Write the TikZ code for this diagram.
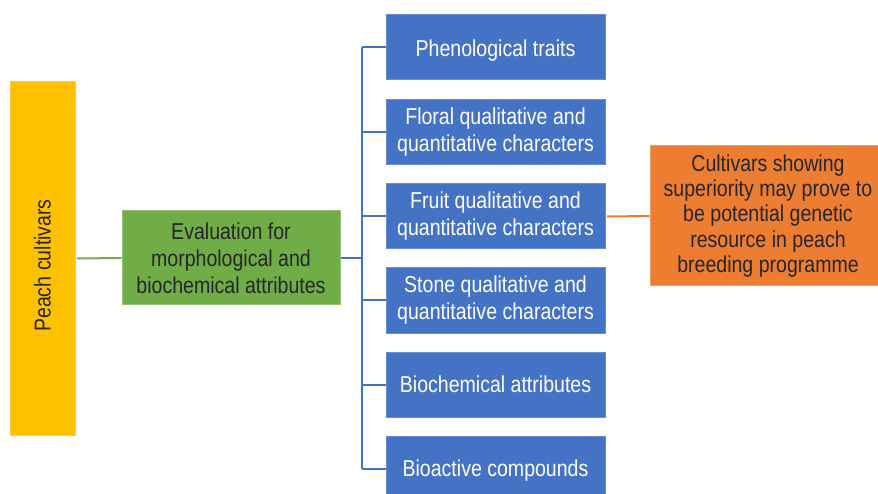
\documentclass[tikz,border=0pt]{standalone}
\usepackage{fontspec}
\setmainfont{Liberation Sans}[FakeStretch=0.85]
\definecolor{cyellow}{HTML}{FFC000}
\definecolor{cgreen}{HTML}{70AD47}
\definecolor{cblue}{HTML}{4472C4}
\definecolor{corange}{HTML}{ED7D31}
\definecolor{ctext}{HTML}{262626}
\tikzset{
  box/.style={rectangle, inner sep=0pt, align=center, font=\fontsize{23}{27}\selectfont},
  bluebox/.style={box, fill=cblue, draw=cblue!80!white, line width=1pt, text=white, minimum width=219, minimum height=65},
  link/.style={line width=2pt},
}
\begin{document}
\begin{tikzpicture}[x=1pt,y=-1pt]
\clip (0,0) rectangle (878,494);
\fill[white] (0,0) rectangle (878,494);
\node[box, fill=cyellow, draw=cyellow!80!white, line width=1pt, minimum width=353, minimum height=65, text=ctext, rotate=90] (pc) at (42.5,258.5) {Peach cultivars\hspace*{14pt}};
\node[box, fill=cgreen, draw=cgreen!75!white, line width=1pt, minimum width=218, minimum height=94, text=ctext] (ev) at (231,258) {Evaluation for\\morphological and\\biochemical attributes};
\node[bluebox] (b1) at (495.5,47.5) {\raisebox{-3pt}[\height][\depth]{Phenological traits}};
\node[bluebox] (b2) at (495.5,132) {Floral qualitative and\\quantitative characters};
\node[bluebox] (b3) at (495.5,216.5) {Fruit qualitative and\\quantitative characters};
\node[bluebox] (b4) at (495.5,300.5) {Stone qualitative and\\quantitative characters};
\node[bluebox] (b5) at (495.5,384.5) {Biochemical attributes};
\node[bluebox] (b6) at (495.5,468.5) {\raisebox{-2pt}[\height][\depth]{Bioactive compounds}};
\node[box, fill=corange, draw=corange!75!white, line width=1pt, minimum width=236, minimum height=140, text=ctext, font=\fontsize{23}{25.3}\selectfont] (out) at (768,216) {Cultivars showing\\superiority may prove to\\be potential genetic\\resource in peach\\breeding programme};
\coordinate (j) at (362,258);
\draw[link, cgreen] (pc.south) ++(1.5,0) -- (ev.west);
\draw[link, cblue] (ev.east) -- (j);
\draw[link, cblue] (b1.west -| j) -- (b6.west -| j);
\foreach \b in {b1,b2,b3,b4,b5,b6} {
  \draw[link, cblue] (\b.west) -- (\b.west -| j);
}
\draw[link, corange] (b3.east) ++(1.5,0) -- (out.west);
\end{tikzpicture}
\end{document}
